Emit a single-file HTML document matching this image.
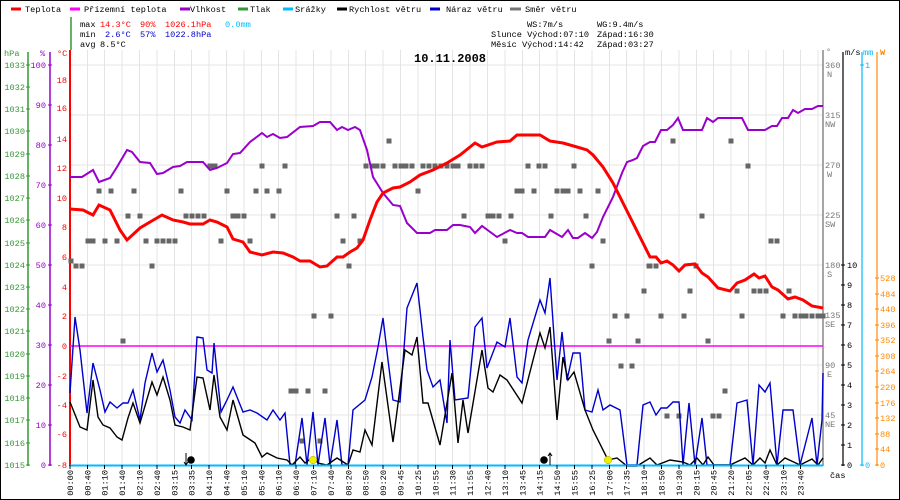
<!DOCTYPE html>
<html><head><meta charset="utf-8"><style>
html,body{margin:0;padding:0;background:#fff}
svg{display:block}
text{font-family:"Liberation Mono",monospace;font-size:8.6px}
</style></head><body>
<svg width="900" height="500" viewBox="0 0 900 500" xmlns="http://www.w3.org/2000/svg">
<rect x="0.5" y="0.5" width="899" height="499" fill="#fff" stroke="#000"/>
<!-- grid -->
<g stroke="#e4e4e4" stroke-width="1">
<path d="M70 65H823M70 115H823M70 165H823M70 215H823M70 265H823M70 315H823M70 365H823M70 415H823"/>
<path d="M87.5 50V465M104.5 50V465M122 50V465M139.5 50V465M157 50V465M174.5 50V465M191.5 50V465M209 50V465M226.5 50V465M244 50V465M261.5 50V465M278.5 50V465M296 50V465M313.5 50V465M331 50V465M348.5 50V465M365.5 50V465M383 50V465M400.5 50V465M418 50V465M435.5 50V465M452.5 50V465M470 50V465M487.5 50V465M505 50V465M522.5 50V465M539.5 50V465M557 50V465M574.5 50V465M592 50V465M609.5 50V465M626.5 50V465M644 50V465M661.5 50V465M679 50V465M696.5 50V465M713.5 50V465M731 50V465M748.5 50V465M766 50V465M783.5 50V465M800.5 50V465M818 50V465"/>
</g>
<!-- legend -->
<g stroke-width="3">
<path d="M11 9H21" stroke="#f00"/><path d="M70 9H80" stroke="#f0f"/><path d="M180 9H190" stroke="#90c"/><path d="M238 9H248" stroke="#393"/><path d="M283 9H293" stroke="#0bf"/><path d="M337 9H347" stroke="#000"/><path d="M430 9H440" stroke="#00c"/><path d="M510 9H521" stroke="#777"/>
</g>
<g fill="#000">
<text x="25" y="12">Teplota</text><text x="84" y="12">Přízemní teplota</text><text x="190" y="12">Vlhkost</text><text x="250" y="12">Tlak</text><text x="295" y="12">Srážky</text><text x="349" y="12">Rychlost větru</text><text x="446" y="12">Náraz větru</text><text x="525" y="12">Směr větru</text>
<text x="80" y="27">max</text><text x="80" y="37">min</text><text x="80" y="47">avg</text>
<text x="100" y="27" fill="#f00">14.3°C</text><text x="140" y="27" fill="#f00">90%</text><text x="165" y="27" fill="#f00">1026.1hPa</text><text x="225" y="27" fill="#0bf">0.0mm</text>
<text x="105" y="37" fill="#00c">2.6°C</text><text x="140" y="37" fill="#00c">57%</text><text x="165" y="37" fill="#00c">1022.8hPa</text>
<text x="100" y="47">8.5°C</text>
<text x="527" y="27">WS:7m/s</text><text x="597" y="27">WG:9.4m/s</text>
<text x="491" y="37">Slunce Východ:07:10</text><text x="597" y="37">Západ:16:30</text>
<text x="491" y="47">Měsíc  Východ:14:42</text><text x="597" y="47">Západ:03:27</text>
<text x="414" y="62" style="font-size:12px;font-weight:bold">10.11.2008</text>
</g>
<!-- left axes -->
<path d="M71 17V50" stroke="#393" stroke-width="1.5"/>
<path d="M28 52V466" stroke="#393" stroke-width="1.5"/>
<path d="M50 52V466" stroke="#90c" stroke-width="1.5"/>
<path d="M70 50V466" stroke="#f00" stroke-width="2"/>
<g fill="#393"><text x="4" y="56">hPa</text>
<g text-anchor="end"><text x="25" y="68">1033</text><text x="25" y="90">1032</text><text x="25" y="112">1031</text><text x="25" y="134">1030</text><text x="25" y="157">1029</text><text x="25" y="179">1028</text><text x="25" y="201">1027</text><text x="25" y="223">1026</text><text x="25" y="246">1025</text><text x="25" y="268">1024</text><text x="25" y="290">1023</text><text x="25" y="312">1022</text><text x="25" y="334">1021</text><text x="25" y="357">1020</text><text x="25" y="379">1019</text><text x="25" y="401">1018</text><text x="25" y="423">1017</text><text x="25" y="446">1016</text><text x="25" y="468">1015</text></g></g>
<g fill="#90c"><text x="40" y="56">%</text>
<g text-anchor="end"><text x="46" y="68">100</text><text x="46" y="108">90</text><text x="46" y="148">80</text><text x="46" y="188">70</text><text x="46" y="228">60</text><text x="46" y="268">50</text><text x="46" y="308">40</text><text x="46" y="348">30</text><text x="46" y="388">20</text><text x="46" y="428">10</text><text x="46" y="468">0</text></g></g>
<g fill="#f00"><text x="57" y="56">°C</text>
<g text-anchor="end"><text x="67" y="83">18</text><text x="67" y="111">16</text><text x="67" y="142">14</text><text x="67" y="171">12</text><text x="67" y="201">10</text><text x="67" y="230">8</text><text x="67" y="260">6</text><text x="67" y="290">4</text><text x="67" y="319">2</text><text x="67" y="349">0</text><text x="67" y="379">-2</text><text x="67" y="408">-4</text><text x="67" y="437">-6</text><text x="67" y="468">-8</text></g></g>
<g stroke-width="1">
<path stroke="#393" d="M26 65h4M26 87h4M26 109h4M26 131h4M26 154h4M26 176h4M26 198h4M26 220h4M26 243h4M26 265h4M26 287h4M26 309h4M26 331h4M26 354h4M26 376h4M26 398h4M26 420h4M26 443h4M26 465h4"/>
<path stroke="#90c" d="M48 65h4M48 105h4M48 145h4M48 185h4M48 225h4M48 265h4M48 305h4M48 345h4M48 385h4M48 425h4M48 465h4"/>
</g>
<!-- right axes -->
<path d="M823 50V466" stroke="#888" stroke-width="1.5"/>
<path d="M843 52V466" stroke="#000" stroke-width="1.2"/>
<path d="M862 52V466" stroke="#0bf" stroke-width="1.2"/>
<path d="M877 52V466" stroke="#f80" stroke-width="1.2"/>
<g fill="#777"><text x="826" y="54">°</text>
<text x="825" y="68">360</text><text x="827" y="77">N</text><text x="825" y="118">315</text><text x="825" y="127">NW</text><text x="825" y="168">270</text><text x="827" y="177">W</text><text x="825" y="218">225</text><text x="825" y="227">SW</text><text x="825" y="268">180</text><text x="827" y="277">S</text><text x="825" y="318">135</text><text x="825" y="327">SE</text><text x="825" y="368">90</text><text x="827" y="377">E</text><text x="825" y="418">45</text><text x="825" y="427">NE</text></g>
<g fill="#000"><text x="845" y="55">m/s</text>
<text x="847" y="268">10</text><text x="847" y="288">9</text><text x="847" y="308">8</text><text x="847" y="328">7</text><text x="847" y="348">6</text><text x="847" y="368">5</text><text x="847" y="388">4</text><text x="847" y="408">3</text><text x="847" y="428">2</text><text x="847" y="448">1</text><text x="847" y="468">0</text></g>
<path stroke="#000" d="M841 265h4M841 285h4M841 305h4M841 325h4M841 345h4M841 365h4M841 385h4M841 405h4M841 425h4M841 445h4M841 465h4"/>
<g fill="#0bf"><text x="863" y="55">mm</text><text x="865" y="68">1</text><text x="865" y="468">0</text></g>
<path stroke="#0bf" d="M860 65h4M860 465h4"/>
<g fill="#f80"><text x="880" y="55" style="font-weight:bold">W</text>
<text x="880" y="281">528</text><text x="880" y="297">484</text><text x="880" y="312">440</text><text x="880" y="328">396</text><text x="880" y="343">352</text><text x="880" y="359">308</text><text x="880" y="374">264</text><text x="880" y="390">220</text><text x="880" y="406">176</text><text x="880" y="421">132</text><text x="880" y="437">88</text><text x="880" y="452">44</text><text x="880" y="468">0</text></g>
<path stroke="#f80" d="M875 278h4M875 294h4M875 309h4M875 325h4M875 340h4M875 356h4M875 371h4M875 387h4M875 403h4M875 418h4M875 434h4M875 449h4M875 465h4"/>
<!-- apparent temp line -->
<path d="M70 346H823" stroke="#f0f" stroke-width="1.5"/>
<!-- wind direction dots -->
<g fill="#666">
<path d="M96.5 188.5h5v5h-5zM108.5 188.5h5v5h-5zM131.5 188.5h5v5h-5zM178.5 188.5h5v5h-5zM224.5 188.5h5v5h-5zM253.5 188.5h5v5h-5zM264.5 188.5h5v5h-5z"/>
<path d="M125.5 213.5h5v5h-5zM137.5 213.5h5v5h-5zM183.5 213.5h5v5h-5zM189.5 213.5h5v5h-5zM195.5 213.5h5v5h-5zM201.5 213.5h5v5h-5zM230.5 213.5h5v5h-5zM235.5 213.5h5v5h-5zM241.5 213.5h5v5h-5z"/>
<path d="M85.5 238.5h5v5h-5zM90.5 238.5h5v5h-5zM102.5 238.5h5v5h-5zM114.5 238.5h5v5h-5zM143.5 238.5h5v5h-5zM154.5 238.5h5v5h-5zM160.5 238.5h5v5h-5zM166.5 238.5h5v5h-5zM172.5 238.5h5v5h-5zM218.5 238.5h5v5h-5zM247.5 238.5h5v5h-5z"/>
<path d="M68.5 258.5h5v5h-5zM73.5 263.5h5v5h-5zM79.5 263.5h5v5h-5zM149.5 263.5h5v5h-5zM120.5 338.5h5v5h-5zM207.5 163.5h5v5h-5zM212.5 163.5h5v5h-5zM259.5 163.5h5v5h-5z"/>
<path d="M259.5 163.5h5v5h-5zM282.5 163.5h5v5h-5zM363.5 163.5h5v5h-5zM369.5 163.5h5v5h-5zM374.5 163.5h5v5h-5zM380.5 163.5h5v5h-5zM392.5 163.5h5v5h-5zM398.5 163.5h5v5h-5zM403.5 163.5h5v5h-5zM409.5 163.5h5v5h-5zM420.5 163.5h5v5h-5zM426.5 163.5h5v5h-5zM432.5 163.5h5v5h-5zM438.5 163.5h5v5h-5zM444.5 163.5h5v5h-5zM450.5 163.5h5v5h-5zM455.5 163.5h5v5h-5z"/>
<path d="M386.5 138.5h5v5h-5zM264.5 188.5h5v5h-5zM276.5 188.5h5v5h-5zM415.5 188.5h5v5h-5zM270.5 213.5h5v5h-5zM334.5 213.5h5v5h-5zM351.5 213.5h5v5h-5zM340.5 238.5h5v5h-5zM357.5 238.5h5v5h-5zM346.5 263.5h5v5h-5zM311.5 313.5h5v5h-5zM328.5 313.5h5v5h-5z"/>
<path d="M288.5 388.5h5v5h-5zM293.5 388.5h5v5h-5zM305.5 388.5h5v5h-5zM322.5 388.5h5v5h-5zM299.5 438.5h5v5h-5zM317.5 438.5h5v5h-5z"/>
<path d="M450.5 163.5h5v5h-5zM455.5 163.5h5v5h-5zM467.5 163.5h5v5h-5zM473.5 163.5h5v5h-5zM479.5 163.5h5v5h-5zM525.5 163.5h5v5h-5zM536.5 163.5h5v5h-5zM542.5 163.5h5v5h-5zM571.5 163.5h5v5h-5z"/>
<path d="M514.5 188.5h5v5h-5zM519.5 188.5h5v5h-5zM531.5 188.5h5v5h-5zM554.5 188.5h5v5h-5zM560.5 188.5h5v5h-5zM565.5 188.5h5v5h-5zM577.5 188.5h5v5h-5zM595.5 188.5h5v5h-5z"/>
<path d="M461.5 213.5h5v5h-5zM485.5 213.5h5v5h-5zM490.5 213.5h5v5h-5zM496.5 213.5h5v5h-5zM508.5 213.5h5v5h-5zM548.5 213.5h5v5h-5zM583.5 213.5h5v5h-5zM502.5 238.5h5v5h-5zM600.5 238.5h5v5h-5z"/>
<path d="M589.5 263.5h5v5h-5zM646.5 263.5h5v5h-5zM641.5 288.5h5v5h-5zM612.5 313.5h5v5h-5zM624.5 313.5h5v5h-5zM606.5 338.5h5v5h-5zM635.5 338.5h5v5h-5zM618.5 363.5h5v5h-5zM629.5 363.5h5v5h-5z"/>
<path d="M670.5 138.5h5v5h-5zM728.5 138.5h5v5h-5zM745.5 163.5h5v5h-5zM699.5 213.5h5v5h-5zM768.5 238.5h5v5h-5zM774.5 238.5h5v5h-5zM647.5 263.5h5v5h-5zM653.5 263.5h5v5h-5zM693.5 263.5h5v5h-5z"/>
<path d="M641.5 288.5h5v5h-5zM687.5 288.5h5v5h-5zM734.5 288.5h5v5h-5zM751.5 288.5h5v5h-5zM757.5 288.5h5v5h-5zM763.5 288.5h5v5h-5zM786.5 288.5h5v5h-5z"/>
<path d="M658.5 313.5h5v5h-5zM681.5 313.5h5v5h-5zM739.5 313.5h5v5h-5zM780.5 313.5h5v5h-5zM792.5 313.5h5v5h-5zM798.5 313.5h5v5h-5zM803.5 313.5h5v5h-5zM809.5 313.5h5v5h-5zM815.5 313.5h5v5h-5zM820.5 313.5h5v5h-5z"/>
<path d="M635.5 338.5h5v5h-5zM705.5 338.5h5v5h-5zM629.5 363.5h5v5h-5zM722.5 388.5h5v5h-5zM664.5 413.5h5v5h-5zM676.5 413.5h5v5h-5zM710.5 413.5h5v5h-5zM716.5 413.5h5v5h-5z"/>
</g>
<!-- humidity -->
<polyline fill="none" stroke="#90c" stroke-width="2" points="70,177 82,177 93,170 99,182 110,178 117,167 127,150 132,152 140,162 150,163 157,174 163,173 173,167 180,166 187,162 203,162 210,170 217,168 227,163 233,154 240,153 250,142 262,133 267,137 273,134 280,138 287,137 300,127 313,126 320,122 330,122 337,130 342,127 348,130 355,127 360,130 367,150 373,177 383,193 393,205 400,206 407,223 417,233 430,233 435,230 447,230 453,225 460,225 470,227 475,233 482,226 497,237 510,230 517,233 522,233 528,237 545,237 550,230 562,237 568,230 573,238 578,238 585,233 592,238 597,232 603,217 613,197 622,173 627,162 633,160 637,158 643,146 650,142 655,142 661,130 667,130 673,125 678,118 683,130 702,130 707,118 713,122 718,118 742,118 748,130 765,130 772,126 777,126 782,118 788,118 793,110 798,113 805,109 812,109 818,106 823,106"/>
<!-- temperature -->
<polyline fill="none" stroke="#f00" stroke-width="3" points="70,209 83,210 93,215 99,205 110,210 120,230 127,240 140,228 150,222 162,215 173,220 183,222 190,224 203,224 210,220 217,222 227,227 233,239 243,242 250,252 262,255 273,252 283,253 293,257 300,261 310,261 320,267 327,266 337,257 343,257 350,252 357,248 363,240 370,220 377,202 383,193 393,188 400,187 410,182 420,175 433,170 447,163 460,155 475,143 482,147 497,142 510,141 517,135 540,135 550,141 563,143 577,147 587,150 593,155 603,167 613,183 623,203 633,223 643,243 650,257 656,257 661,263 667,261 673,265 679,271 685,265 695,264 702,273 708,277 718,288 730,291 737,283 745,280 754,274 759,278 765,276 772,287 778,290 788,299 795,297 803,300 812,306 823,308"/>
<!-- gust -->
<polyline fill="none" stroke="#00c" stroke-width="1.4" points="70,393 75,317 80,350 87,413 93,363 100,390 105,412 110,402 117,408 123,403 128,403 133,390 140,420 145,383 152,353 157,372 163,360 170,390 175,417 180,423 185,410 192,420 197,337 203,338 207,370 212,373 214,343 217,373 221,412 227,400 233,387 243,412 250,410 257,413 267,420 273,410 280,420 285,413 290,465 295,465 302,418 307,465 313,412 318,465 325,418 330,465 337,420 342,465 348,465 353,410 365,400 372,377 378,347 383,318 388,360 393,400 400,402 407,308 417,283 423,337 427,370 433,387 440,380 447,423 450,340 455,400 468,398 475,327 482,318 487,368 497,342 505,347 510,318 517,377 522,383 528,340 540,300 545,313 550,278 557,380 562,332 567,380 573,353 580,353 585,410 592,412 598,390 603,410 610,405 620,410 627,465 637,465 643,405 650,402 656,415 661,408 667,408 673,402 679,402 683,465 689,403 695,465 702,418 707,465 730,465 737,403 747,400 753,465 759,385 765,392 770,383 777,465 783,410 793,410 800,465 812,418 817,465 822,420 823,373"/>
<!-- wind -->
<polyline fill="none" stroke="#000" stroke-width="1.4" points="70,402 80,427 87,430 93,380 98,417 103,425 110,428 117,437 122,440 128,418 133,403 140,423 152,382 157,395 163,377 170,400 175,425 183,427 190,430 197,377 203,378 210,410 214,375 220,417 227,430 233,400 243,435 255,443 262,457 267,453 277,458 287,460 292,465 300,457 305,463 313,457 318,463 327,465 337,458 348,465 353,450 360,452 365,430 372,445 382,362 393,442 405,350 412,355 417,337 423,403 428,403 440,445 452,373 458,443 463,400 468,433 482,350 488,388 493,392 500,375 507,380 522,403 540,333 545,348 550,327 557,420 563,357 568,380 574,372 585,410 593,430 608,460 617,458 627,466 637,466 650,458 657,465 670,460 683,462 690,465 697,458 703,465 708,457 714,465 730,465 745,458 753,465 760,458 765,463 770,450 777,465 785,458 800,465 812,459 818,465 823,458"/>
<!-- precip baseline -->
<path d="M70 465.5H823" stroke="#0bf" stroke-width="2"/>
<!-- sun / moon -->
<path d="M186 453V465M184 462l2 3 2-3" stroke="#000" fill="none"/><circle cx="191" cy="460" r="3.8" fill="#000"/>
<circle cx="313" cy="460" r="3.8" fill="#ee0" stroke="#aa0" stroke-width="0.5"/>
<circle cx="544" cy="460" r="3.8" fill="#000"/><path d="M550 465V453M548 456l2-3 2 3" stroke="#000" fill="none"/>
<circle cx="608" cy="460" r="3.8" fill="#ee0" stroke="#aa0" stroke-width="0.5"/>
<!-- x ticks -->
<path stroke="#000" d="M70 465v4M87.5 465v4M104.5 465v4M122 465v4M139.5 465v4M157 465v4M174.5 465v4M191.5 465v4M209 465v4M226.5 465v4M244 465v4M261.5 465v4M278.5 465v4M296 465v4M313.5 465v4M331 465v4M348.5 465v4M365.5 465v4M383 465v4M400.5 465v4M418 465v4M435.5 465v4M452.5 465v4M470 465v4M487.5 465v4M505 465v4M522.5 465v4M539.5 465v4M557 465v4M574.5 465v4M592 465v4M609.5 465v4M626.5 465v4M644 465v4M661.5 465v4M679 465v4M696.5 465v4M713.5 465v4M731 465v4M748.5 465v4M766 465v4M783.5 465v4M800.5 465v4"/>
<g fill="#000" text-anchor="end">
<text transform="translate(73,470) rotate(-90)">00:00</text>
<text transform="translate(90.5,470) rotate(-90)">00:40</text>
<text transform="translate(107.5,470) rotate(-90)">01:10</text>
<text transform="translate(125,470) rotate(-90)">01:40</text>
<text transform="translate(142.5,470) rotate(-90)">02:10</text>
<text transform="translate(160,470) rotate(-90)">02:40</text>
<text transform="translate(177.5,470) rotate(-90)">03:15</text>
<text transform="translate(194.5,470) rotate(-90)">03:35</text>
<text transform="translate(212,470) rotate(-90)">04:10</text>
<text transform="translate(229.5,470) rotate(-90)">04:40</text>
<text transform="translate(247,470) rotate(-90)">05:10</text>
<text transform="translate(264.5,470) rotate(-90)">05:40</text>
<text transform="translate(281.5,470) rotate(-90)">06:10</text>
<text transform="translate(299,470) rotate(-90)">06:40</text>
<text transform="translate(316.5,470) rotate(-90)">07:10</text>
<text transform="translate(334,470) rotate(-90)">07:40</text>
<text transform="translate(351.5,470) rotate(-90)">08:20</text>
<text transform="translate(368.5,470) rotate(-90)">08:50</text>
<text transform="translate(386,470) rotate(-90)">09:20</text>
<text transform="translate(403.5,470) rotate(-90)">09:45</text>
<text transform="translate(421,470) rotate(-90)">10:25</text>
<text transform="translate(438.5,470) rotate(-90)">10:55</text>
<text transform="translate(455.5,470) rotate(-90)">11:30</text>
<text transform="translate(473,470) rotate(-90)">11:55</text>
<text transform="translate(490.5,470) rotate(-90)">12:40</text>
<text transform="translate(508,470) rotate(-90)">13:10</text>
<text transform="translate(525.5,470) rotate(-90)">13:45</text>
<text transform="translate(542.5,470) rotate(-90)">14:15</text>
<text transform="translate(560,470) rotate(-90)">14:50</text>
<text transform="translate(577.5,470) rotate(-90)">15:55</text>
<text transform="translate(595,470) rotate(-90)">16:25</text>
<text transform="translate(612.5,470) rotate(-90)">17:00</text>
<text transform="translate(629.5,470) rotate(-90)">17:35</text>
<text transform="translate(647,470) rotate(-90)">18:10</text>
<text transform="translate(664.5,470) rotate(-90)">18:50</text>
<text transform="translate(682,470) rotate(-90)">19:30</text>
<text transform="translate(699.5,470) rotate(-90)">20:15</text>
<text transform="translate(716.5,470) rotate(-90)">20:45</text>
<text transform="translate(734,470) rotate(-90)">21:20</text>
<text transform="translate(751.5,470) rotate(-90)">22:05</text>
<text transform="translate(769,470) rotate(-90)">22:40</text>
<text transform="translate(786.5,470) rotate(-90)">23:10</text>
<text transform="translate(803.5,470) rotate(-90)">23:40</text>
</g>
<text x="830" y="478" fill="#000">čas</text>
</svg>
</body></html>
